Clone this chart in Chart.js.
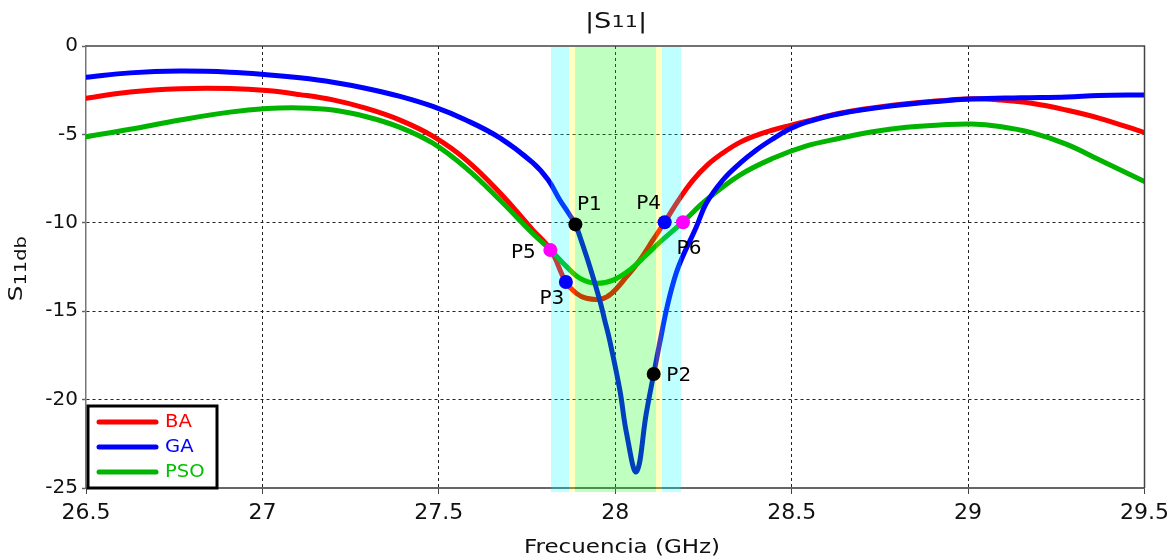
<!DOCTYPE html>
<html><head><meta charset="utf-8">
<script src="https://cdn.jsdelivr.net/npm/chart.js@4.4.1/dist/chart.umd.min.js"></script>
<style>html,body{margin:0;padding:0;background:#fff;}#wrap{width:1175px;height:559px;}</style>
</head><body><div id="wrap"><canvas id="c" width="1175" height="559"></canvas></div>
<script>
// ---- data ----
const freqBA = [26.5, 26.625, 26.766, 26.908, 27.012, 27.106, 27.2, 27.295, 27.39, 27.483, 27.578, 27.673, 27.766, 27.817, 27.86, 27.89, 27.918, 27.96, 27.99, 28.032, 28.07, 28.107, 28.14, 28.18, 28.22, 28.26, 28.305, 28.353, 28.4, 28.447, 28.494, 28.54, 28.636, 28.78, 28.92, 29.01, 29.09, 29.18, 29.278, 29.373, 29.5];
const s11BA  = [-2.96, -2.6, -2.42, -2.41, -2.52, -2.75, -3.05, -3.53, -4.19, -5.1, -6.45, -8.3, -10.4, -11.54, -13.35, -13.99, -14.27, -14.31, -13.99, -13.05, -12.1, -10.97, -9.97, -8.7, -7.6, -6.75, -6.05, -5.45, -5.05, -4.75, -4.5, -4.27, -3.8, -3.37, -3.1, -2.98, -3.05, -3.24, -3.62, -4.09, -4.9];

const freqGA = [26.5, 26.625, 26.766, 26.908, 27.012, 27.106, 27.2, 27.295, 27.39, 27.483, 27.578, 27.673, 27.766, 27.81, 27.843, 27.871, 27.887, 27.9, 27.928, 27.956, 27.97, 27.984, 28.013, 28.032, 28.06, 28.088, 28.109, 28.126, 28.145, 28.164, 28.183, 28.23, 28.258, 28.305, 28.353, 28.4, 28.447, 28.494, 28.54, 28.636, 28.78, 28.92, 29.01, 29.15, 29.28, 29.37, 29.5];
const s11GA  = [-1.77, -1.52, -1.42, -1.48, -1.62, -1.8, -2.05, -2.4, -2.85, -3.42, -4.2, -5.2, -6.6, -7.58, -8.71, -9.56, -10.09, -10.79, -12.48, -14.37, -15.5, -16.63, -19.46, -21.9, -24.08, -20.77, -18.55, -16.8, -14.93, -13.42, -12.29, -10.22, -8.9, -7.58, -6.64, -5.88, -5.25, -4.7, -4.32, -3.83, -3.4, -3.12, -3.0, -2.93, -2.88, -2.8, -2.77];

const freqPSO = [26.5, 26.625, 26.766, 26.908, 27.012, 27.106, 27.2, 27.295, 27.39, 27.483, 27.578, 27.673, 27.766, 27.817, 27.862, 27.9, 27.947, 27.994, 28.041, 28.088, 28.126, 28.192, 28.258, 28.353, 28.447, 28.54, 28.636, 28.73, 28.825, 28.92, 29.01, 29.09, 29.18, 29.278, 29.373, 29.5];
const s11PSO  = [-5.13, -4.71, -4.19, -3.74, -3.54, -3.5, -3.62, -4.0, -4.6, -5.5, -6.92, -8.71, -10.6, -11.54, -12.48, -13.14, -13.42, -13.24, -12.67, -11.82, -11.1, -9.95, -8.71, -7.3, -6.35, -5.66, -5.22, -4.85, -4.6, -4.47, -4.41, -4.55, -4.9, -5.55, -6.45, -7.67];

const markerNames = ['P1', 'P2', 'P3', 'P4', 'P5', 'P6'];
const markerFreq  = [27.887, 28.109, 27.86, 28.14, 27.816, 28.192];
const markerS11   = [-10.09, -18.55, -13.35, -9.97, -11.54, -9.97];

const bandFrom = [27.817, 27.868, 27.885, 28.115, 28.132];
const bandTo   = [27.868, 27.885, 28.115, 28.132, 28.186];

const xTicks = [26.5, 27, 27.5, 28, 28.5, 29, 29.5];
const yTicks = [0, -5, -10, -15, -20, -25];

// ---- styles ----
const FONT = '"DejaVu Sans", Verdana, sans-serif';
const colBA = '#ff0000', colGA = '#0000ff', colPSO = '#00b400';
const markerColors = ['#000000', '#000000', '#0000ff', '#0000ff', '#ff00ff', '#ff00ff'];
const bandColors = ['#00ffff', '#ffff00', '#00ff00', '#ffff00', '#00ffff'];
const labelDx = [14, 25, -14, -16, -27, 6];
const labelDy = [-20, 2, 17, -18, 3, 27];

const pts = (xs, ys) => xs.map((x, i) => ({x: x, y: ys[i]}));

const lineDS = (label, xs, ys, color, order) => ({
  label: label, data: pts(xs, ys), showLine: true, borderColor: color, backgroundColor: color,
  borderWidth: 5, pointRadius: 0, pointHoverRadius: 0, tension: 0.4,
  order: order, borderCapStyle: 'round', borderJoinStyle: 'round'
});

const edgeTransparent = (ctx, lo, hi) => {
  const v = ctx.tick ? ctx.tick.value : null;
  return (v === lo || v === hi) ? 'rgba(0,0,0,0)' : '#222';
};

// draws text horizontally stretched by factor sx, starting at x (left aligned)
function stretchText(ctx, txt, x, y, sx) {
  ctx.save(); ctx.translate(x, y); ctx.scale(sx, 1); ctx.fillText(txt, 0, 0); ctx.restore();
}

const bandPlugin = {
  id: 'bands',
  beforeDatasetDraw(chart, args) {
    if (args.index !== 3) return;
    const ctx = chart.ctx, a = chart.chartArea, x = chart.scales.x;
    ctx.save();
    ctx.globalAlpha = 0.25;
    bandFrom.forEach((f, i) => {
      const x0 = Math.round(x.getPixelForValue(f)), x1 = Math.round(x.getPixelForValue(bandTo[i]));
      ctx.fillStyle = bandColors[i];
      ctx.fillRect(x0, a.top + 1, x1 - x0, a.bottom - a.top + 3);
    });
    ctx.restore();
  }
};

const decoPlugin = {
  id: 'deco',
  afterDatasetsDraw(chart) {
    const ctx = chart.ctx;
    const meta = chart.getDatasetMeta(3);
    ctx.save();
    ctx.font = '20px ' + FONT;
    ctx.fillStyle = '#000';
    ctx.textAlign = 'center';
    ctx.textBaseline = 'middle';
    meta.data.forEach((p, i) => ctx.fillText(markerNames[i], p.x + labelDx[i], p.y + labelDy[i]));
    ctx.restore();
  },
  afterDraw(chart) {
    const ctx = chart.ctx, a = chart.chartArea;
    ctx.save();
    ctx.strokeStyle = '#444'; ctx.lineWidth = 1.5;
    ctx.beginPath(); ctx.moveTo(a.left, a.top); ctx.lineTo(a.right, a.top); ctx.lineTo(a.right, a.bottom); ctx.stroke();
    // title |S11|
    ctx.fillStyle = '#111';
    ctx.textBaseline = 'alphabetic'; ctx.textAlign = 'left';
    const SX = 1.3;
    const big = '21px ' + FONT, small = '16px ' + FONT;
    ctx.font = big; const w1 = ctx.measureText('|S').width * SX; const w3 = ctx.measureText('|').width * SX;
    ctx.font = small; const w2 = ctx.measureText('11').width * SX;
    let tx = 616 - (w1 + w2 + w3) / 2;
    ctx.font = big; stretchText(ctx, '|S', tx, 28, SX);
    ctx.font = small; stretchText(ctx, '11', tx + w1, 27, SX);
    ctx.font = big; stretchText(ctx, '|', tx + w1 + w2, 28, SX);
    // x axis title
    ctx.font = '20px ' + FONT;
    const xt = 'Frecuencia (GHz)', XS = 1.15;
    const wx = ctx.measureText(xt).width * XS;
    stretchText(ctx, xt, 622 - wx / 2, 553, XS);
    // y axis title S11db (rotated)
    ctx.save();
    ctx.translate(22, 267); ctx.rotate(-Math.PI / 2);
    const YS = 1.3;
    ctx.font = '19px ' + FONT; const ws = ctx.measureText('S').width * YS;
    ctx.font = small; const wd = ctx.measureText('11db').width * YS;
    const sx = -(ws + wd) / 2;
    ctx.font = '19px ' + FONT; stretchText(ctx, 'S', sx, 0, YS);
    ctx.font = '15px ' + FONT; stretchText(ctx, '11db', sx + ws, 4, YS);
    ctx.restore();
    ctx.restore();
    // legend
    ctx.save();
    ctx.fillStyle = '#fff'; ctx.strokeStyle = '#000'; ctx.lineWidth = 3;
    ctx.fillRect(88, 406, 129, 82);
    ctx.strokeRect(88, 406, 129, 82);
    ctx.font = '17px ' + FONT; ctx.textBaseline = 'middle'; ctx.textAlign = 'left';
    const rows = [422, 447, 472];
    [0, 1, 2].forEach((di, r) => {
      const ds = chart.data.datasets[di];
      ctx.strokeStyle = ds.borderColor; ctx.lineWidth = 5; ctx.lineCap = 'round';
      ctx.beginPath(); ctx.moveTo(99, rows[r]); ctx.lineTo(156, rows[r]); ctx.stroke();
      ctx.fillStyle = di === 2 ? '#00c000' : ds.borderColor;
      stretchText(ctx, ds.label, 165, rows[r] + 1, 1.15);
    });
    ctx.restore();
  }
};

new Chart(document.getElementById('c'), {
  type: 'scatter',
  data: {
    datasets: [
      lineDS('BA', freqBA, s11BA, colBA, 3),
      lineDS('GA', freqGA, s11GA, colGA, 1),
      lineDS('PSO', freqPSO, s11PSO, colPSO, 2),
      { label: 'markers', data: pts(markerFreq, markerS11), showLine: false, pointRadius: 7,
        pointBorderWidth: 0, pointBackgroundColor: markerColors, pointBorderColor: markerColors, order: 0 }
    ]
  },
  options: {
    responsive: false, animation: false, events: [],
    layout: { padding: { left: 0, top: 46, right: 30, bottom: 0 } },
    plugins: { legend: { display: false }, tooltip: { enabled: false }, title: { display: false } },
    scales: {
      x: {
        type: 'linear', min: 26.5, max: 29.5,
        afterBuildTicks: s => { s.ticks = xTicks.map(v => ({value: v})); },
        afterFit: s => { s.height = 71; },
        ticks: { callback: v => String(v), font: { family: FONT, size: 22 }, color: '#111', padding: 6, maxRotation: 0 },
        grid: { color: c => edgeTransparent(c, 26.5, 29.5), lineWidth: 1, tickLength: 6, tickColor: '#444', tickWidth: 1 },
        border: { display: true, color: '#666', width: 2, dash: [3, 3] }
      },
      y: {
        type: 'linear', min: -25, max: 0,
        afterBuildTicks: s => { s.ticks = yTicks.map(v => ({value: v})); },
        afterFit: s => { s.width = 86; },
        ticks: { callback: v => String(v), font: { family: FONT, size: 20 }, color: '#111', padding: 4 },
        grid: { color: c => edgeTransparent(c, -25, 0), lineWidth: 1, tickLength: 4, tickColor: '#666', tickWidth: 1.5 },
        border: { display: true, color: '#777', width: 1.5, dash: [3, 3] }
      }
    }
  },
  plugins: [bandPlugin, decoPlugin]
});
</script>
</body></html>
